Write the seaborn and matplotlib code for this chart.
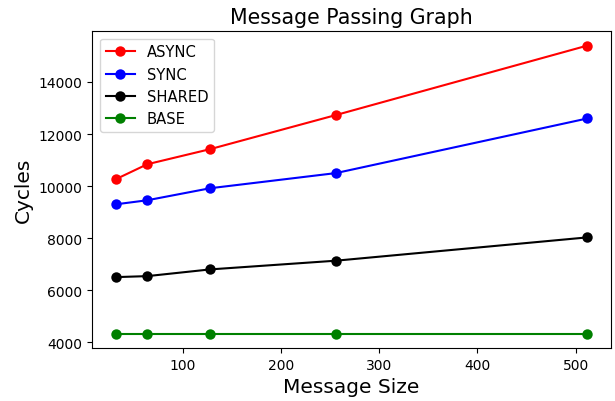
import matplotlib as mpl
mpl.use('Agg')
import matplotlib.pyplot as plt
import seaborn as sb
import pandas as pd

# message sizes (bytes)
msgSizes = [32, 64, 128, 256, 512]

# cycles
asyncCycles = [10265, 10840, 11420, 12730, 15400]
syncCycles = [9300, 9456, 9918, 10500, 12600]
sharedCycles = [6503, 6541, 6799, 7134, 8030]
baseCycles = [4335, 4335, 4335, 4335, 4335]

seriesNames = ['ASYNC', 'SYNC', 'SHARED', 'BASE']
seriesColors = ['red', 'blue', 'black', 'green']


def createImage():
    fig, ax = plt.subplots(figsize=(6.15, 4.02), dpi=100)
    fig.subplots_adjust(left=0.15, right=0.9935, top=0.92, bottom=0.132)

    allSeries = [asyncCycles, syncCycles, sharedCycles, baseCycles]
    for name, col, vals in zip(seriesNames, seriesColors, allSeries):
        df = pd.DataFrame({'size': msgSizes, 'cycles': vals})
        sb.lineplot(data=df, x='size', y='cycles', ax=ax, color=col,
                    marker='o', markersize=7.5, markeredgewidth=0,
                    linewidth=1.5, label=name)

    ax.set_title('Message Passing Graph', fontsize=14.8)
    ax.set_xlabel('Message Size', fontsize=14.5)
    ax.set_ylabel('Cycles', fontsize=14.5)
    ax.tick_params(labelsize=10)
    ax.set_xticks([100, 200, 300, 400, 500])
    ax.set_yticks([4000, 6000, 8000, 10000, 12000, 14000])
    ax.legend(loc='upper left', fontsize=10.6)
    fig.savefig('out.png')
    plt.close(fig)


createImage()
